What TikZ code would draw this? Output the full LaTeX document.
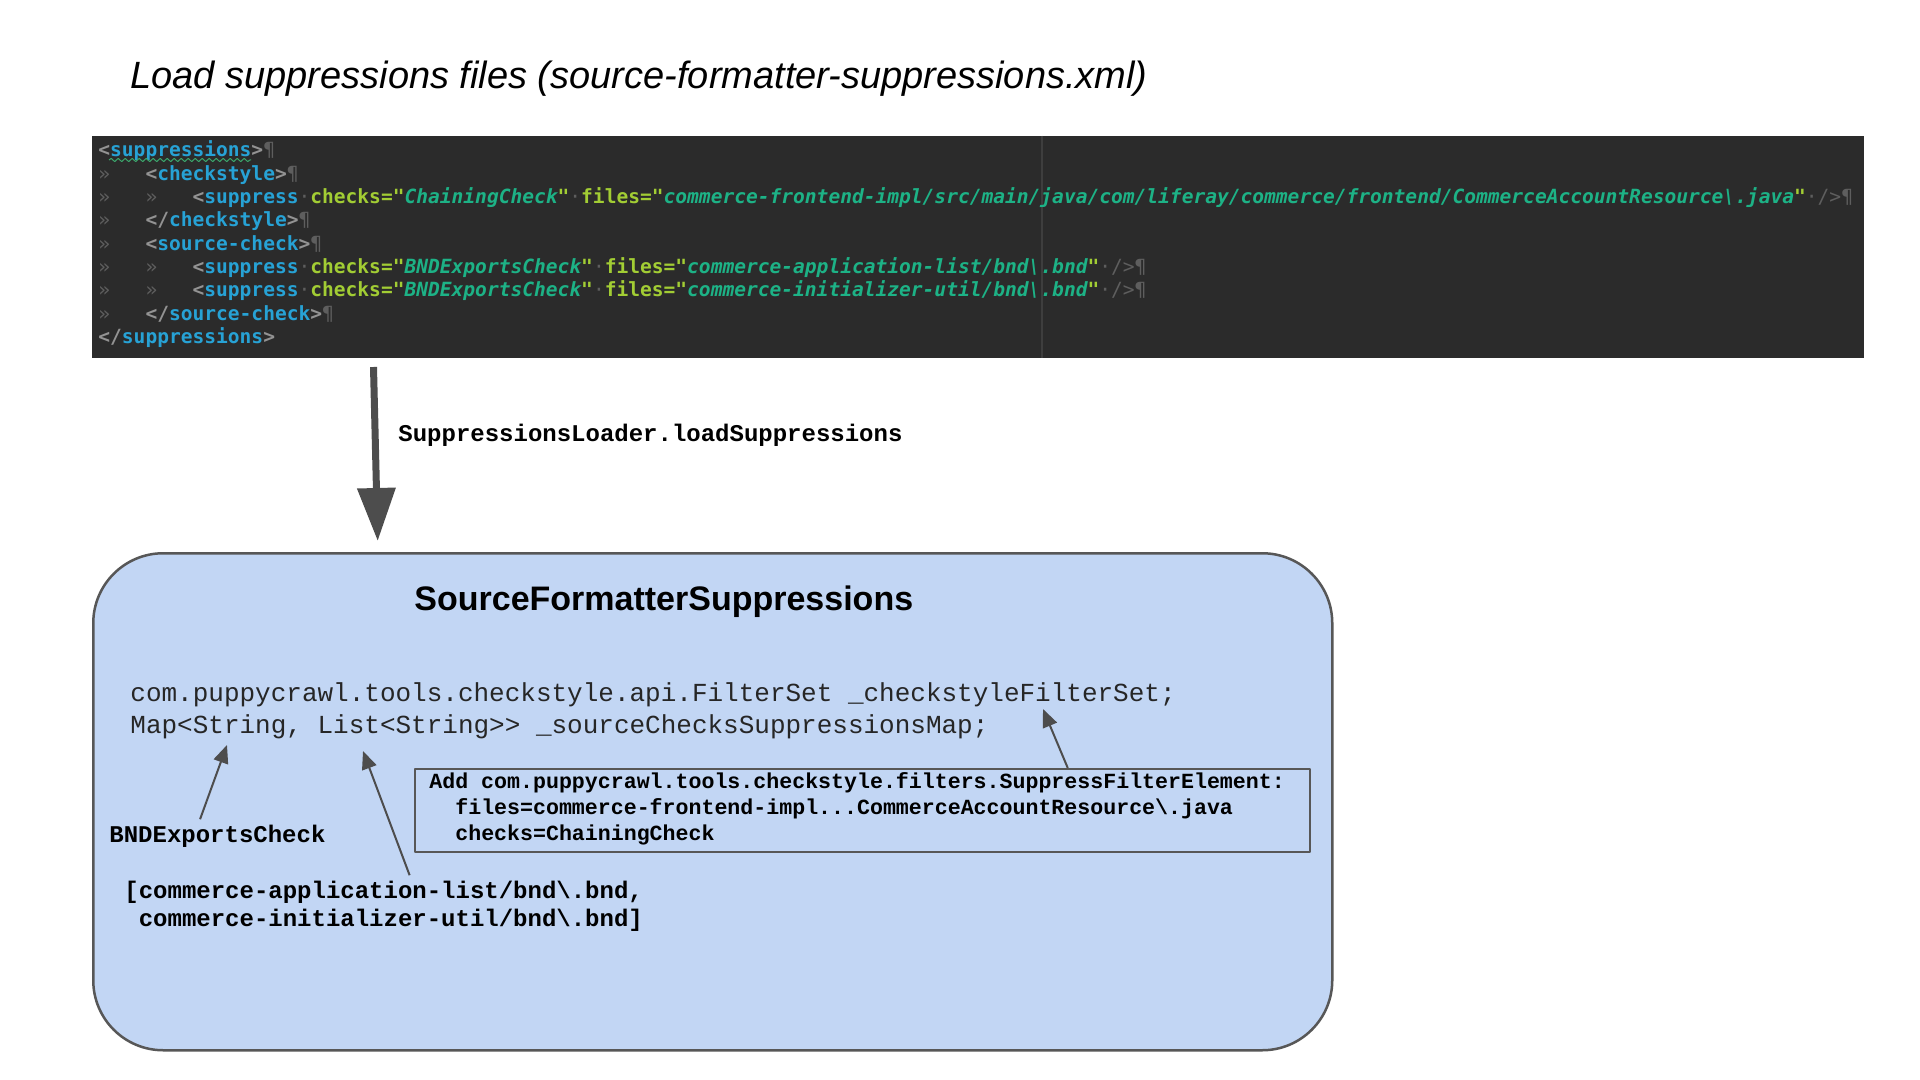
\documentclass[tikz,border=0pt]{standalone}
\usepackage{fontspec}
\setmainfont{Liberation Sans}
\newfontfamily\codefont{DejaVu Sans Mono}
\newfontfamily\courfont{Liberation Mono}
\usetikzlibrary{arrows.meta,calc,decorations.pathmorphing}
\definecolor{codebg}{HTML}{2B2B2B}
\definecolor{codetag}{HTML}{27A2D5}
\definecolor{codebr}{HTML}{939393}
\definecolor{codeattr}{HTML}{A2CD34}
\definecolor{codeval}{HTML}{1DB286}
\definecolor{codedim}{HTML}{5E5E5E}
\definecolor{gutter}{HTML}{3E3E3E}
\definecolor{squig}{HTML}{3BA56B}
\definecolor{boxblue}{HTML}{C2D6F4}
\definecolor{boxline}{HTML}{575757}
\definecolor{arrowgrey}{HTML}{4D4D4D}
\newcommand\xtag[1]{\textcolor{codetag}{#1}}
\newcommand\xbr[1]{\textcolor{codebr}{#1}}
\newcommand\xatt[1]{\textcolor{codeattr}{#1}}
\newcommand\xval[1]{\textcolor{codeval}{\itshape #1}}
\newcommand\xdim[1]{\textcolor{codedim}{\mdseries #1}}
\newcommand\xtab{\xdim{»}~~~}
\begin{document}
\begin{tikzpicture}[x=0.5pt,y=-0.5pt,line join=round,
	code/.style={font=\codefont\bfseries\fontsize{9.78}{11.65}\selectfont,anchor=base west,inner sep=0pt,align=left},
	member/.style={font=\courfont\fontsize{13}{16}\selectfont,anchor=base west,inner sep=0pt,text=black!85},
	note/.style={font=\courfont\bfseries\fontsize{12}{14}\selectfont,anchor=base west,inner xsep=0pt,inner ysep=2.5pt,align=left},
	classbox/.style={draw=boxline,line width=1.25pt,fill=boxblue,rounded corners=35pt,anchor=north west,inner sep=0pt},
	addbox/.style={draw=boxline,line width=0.9pt,fill=boxblue,anchor=north west,inner sep=0pt},
	loadarrow/.style={draw=arrowgrey,line width=3.5pt,-{Triangle[length=26.5pt,width=18.5pt]},arrowgrey},
	ptr/.style={draw=arrowgrey,line width=1pt,-{Triangle[length=9pt,width=7.5pt]},arrowgrey},
	squiggle/.style={draw=squig,line width=0.5pt,decorate,decoration={snake,amplitude=0.8pt,segment length=3.5pt}}]
	\fill[white] (0,0) rectangle (1920,1080);
	\useasboundingbox (0,0) rectangle (1920,1080);
	\node[anchor=base west,inner sep=0pt,font=\itshape\fontsize{19}{23}\selectfont] (title) at (130,89) {Load suppressions files (source-formatter-suppressions.xml)};
	\node[fill=codebg,anchor=north west,inner sep=0pt,minimum width=886pt,minimum height=111pt] (xml) at (92,136) {};
	\draw[gutter,line width=0.6pt] (1042,136) -- (1042,358);
	\node[code] (xmltext) at (98,343.4) {\xbr{<}\xtag{suppressions}\xbr{>}\xdim{¶}\\
		\xtab\xbr{<}\xtag{checkstyle}\xbr{>}\xdim{¶}\\
		\xtab\xtab\xbr{<}\xtag{suppress}\xdim{·}\xatt{checks="}\xval{ChainingCheck}\xatt{"}\xdim{·}\xatt{files="}\xval{commerce-frontend-impl/src/main/java/com/liferay/commerce/frontend/CommerceAccountResource\textbackslash.java}\xatt{"}\xdim{·/>¶}\\
		\xtab\xbr{</}\xtag{checkstyle}\xbr{>}\xdim{¶}\\
		\xtab\xbr{<}\xtag{source-check}\xbr{>}\xdim{¶}\\
		\xtab\xtab\xbr{<}\xtag{suppress}\xdim{·}\xatt{checks="}\xval{BNDExportsCheck}\xatt{"}\xdim{·}\xatt{files="}\xval{commerce-application-list/bnd\textbackslash.bnd}\xatt{"}\xdim{·/>¶}\\
		\xtab\xtab\xbr{<}\xtag{suppress}\xdim{·}\xatt{checks="}\xval{BNDExportsCheck}\xatt{"}\xdim{·}\xatt{files="}\xval{commerce-initializer-util/bnd\textbackslash.bnd}\xatt{"}\xdim{·/>¶}\\
		\xtab\xbr{</}\xtag{source-check}\xbr{>}\xdim{¶}\\
		\xbr{</}\xtag{suppressions}\xbr{>}};
	\draw[squiggle] (109,160) -- (251,160);
	\coordinate (loadfrom) at (373.5,367);
	\coordinate (loadto) at (377.7,541);
	\draw[loadarrow] (loadfrom) -- (loadto);
	\node[note,inner sep=0pt] (loadlabel) at (398,441) {SuppressionsLoader.loadSuppressions};
	\node[classbox,minimum width=619.5pt,minimum height=248.5pt] (suppbox) at (92,552) {};
	\node[anchor=base west,inner sep=0pt,font=\bfseries\fontsize{17}{20}\selectfont] (classname) at (414,610) {SourceFormatterSuppressions};
	\node[member] (filterset) at (130,701) {com.puppycrawl.tools.checkstyle.api.FilterSet \_checkstyleFilterSet;};
	\node[member] (checksmap) at (130,733) {Map<String, List<String>{}> \_sourceChecksSuppressionsMap;};
	\node[addbox,minimum width=447.5pt,minimum height=41.5pt] (addbox) at (414,768) {};
	\node[note,inner sep=0pt,font=\courfont\bfseries\fontsize{10.8}{12.85}\selectfont] (addtext) at (429,840) {Add com.puppycrawl.tools.checkstyle.filters.SuppressFilterElement:\\
		~~files=commerce-frontend-impl...CommerceAccountResource\textbackslash.java\\
		~~checks=ChainingCheck};
	\node[note] (bndcheck) at (109,842) {BNDExportsCheck};
	\node[note] (bndlist) at (124,926) {[commerce-application-list/bnd\textbackslash.bnd,\\
		~commerce-initializer-util/bnd\textbackslash.bnd]};
	\coordinate (stringtip) at (227,745);
	\coordinate (listtip) at (363,751);
	\coordinate (filtertip) at (1043,709);
	\draw[ptr] ($(bndcheck.north west)!0.42!(bndcheck.north east)$) -- (stringtip);
	\draw[ptr] ($(bndlist.north west)!0.55!(bndlist.north east)$) -- (listtip);
	\draw[ptr] ($(addbox.north west)!0.729!(addbox.north east)$) -- (filtertip);
\end{tikzpicture}
\end{document}
